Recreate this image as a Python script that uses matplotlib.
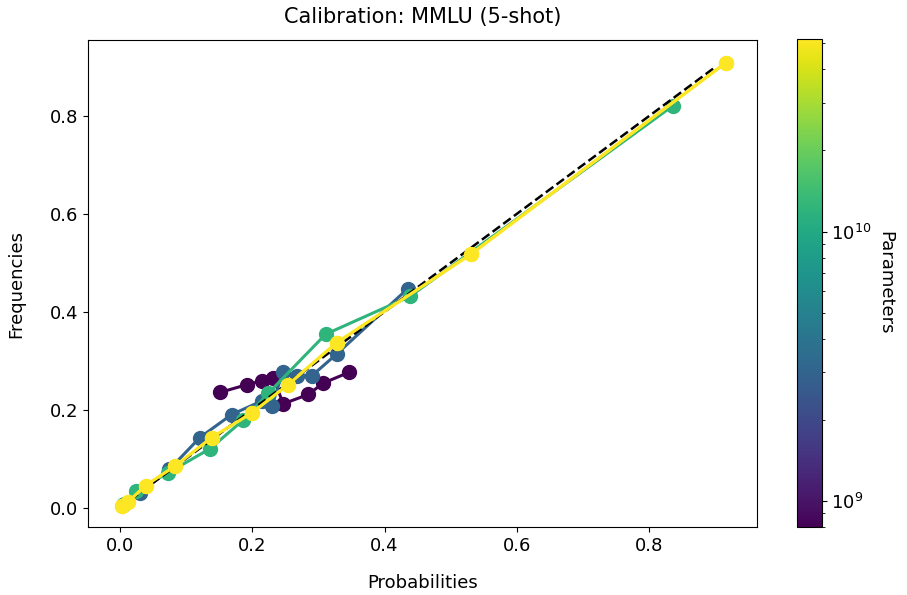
import matplotlib
matplotlib.use("Agg")
import matplotlib.pyplot as plt
import numpy as np
from matplotlib.colors import LogNorm

# tamanhos dos modelos (parametros)
params = [8e8, 3e9, 1.2e10, 5.2e10]

# probabilidades / frequencias por modelo
prob_08b = [0.151, 0.192, 0.215, 0.232, 0.247, 0.285, 0.307, 0.346]
freq_08b = [0.235, 0.251, 0.259, 0.264, 0.212, 0.231, 0.254, 0.276]

prob_3b = [0.005, 0.03, 0.075, 0.121, 0.169, 0.215, 0.230, 0.246, 0.268, 0.290, 0.328, 0.435]
freq_3b = [0.006, 0.03, 0.078, 0.143, 0.190, 0.218, 0.208, 0.276, 0.269, 0.269, 0.314, 0.447]

prob_12b = [0.006, 0.024, 0.073, 0.136, 0.186, 0.224, 0.311, 0.438, 0.835]
freq_12b = [0.007, 0.033, 0.071, 0.120, 0.178, 0.233, 0.354, 0.431, 0.820]

prob_52b = [0.004, 0.013, 0.039, 0.083, 0.139, 0.200, 0.254, 0.328, 0.531, 0.915]
freq_52b = [0.004, 0.012, 0.045, 0.084, 0.143, 0.194, 0.251, 0.337, 0.518, 0.908]

probs = [prob_08b, prob_3b, prob_12b, prob_52b]
freqs = [freq_08b, freq_3b, freq_12b, freq_52b]

fig = plt.figure(figsize=(9.07, 5.95), dpi=100)
ax = fig.add_axes([0.097, 0.114, 0.738, 0.819])
cax = fig.add_axes([0.879, 0.114, 0.027, 0.821])

norm = LogNorm(vmin=8e8, vmax=5.2e10)
cmap = plt.get_cmap("viridis")

for n, p, f in zip(params, probs, freqs):
    ax.plot(p, f, "o-", color=cmap(norm(n)), lw=2.2, ms=10)

ax.plot([0, 0.9], [0, 0.9], "k--", lw=1.8, zorder=2.5)
# amarelo por cima da diagonal
ax.plot(prob_52b, freq_52b, "o-", color=cmap(norm(params[-1])), lw=2.2, ms=10, zorder=3)

ax.set_xlim(-0.048, 0.963)
ax.set_ylim(-0.04, 0.955)
ax.set_xticks([0.0, 0.2, 0.4, 0.6, 0.8])
ax.set_yticks([0.0, 0.2, 0.4, 0.6, 0.8])
ax.tick_params(labelsize=13)
ax.set_xlabel("Probabilities", fontsize=13, labelpad=14)
ax.set_ylabel("Frequencies", fontsize=13, labelpad=18)
ax.set_title("Calibration: MMLU (5-shot)", fontsize=15, pad=12)

sm = plt.cm.ScalarMappable(norm=norm, cmap=cmap)
cbar = fig.colorbar(sm, cax=cax)
cbar.ax.tick_params(labelsize=13)
cbar.set_label("Parameters", rotation=270, fontsize=13, labelpad=16)

fig.savefig("out.png", dpi=100)
